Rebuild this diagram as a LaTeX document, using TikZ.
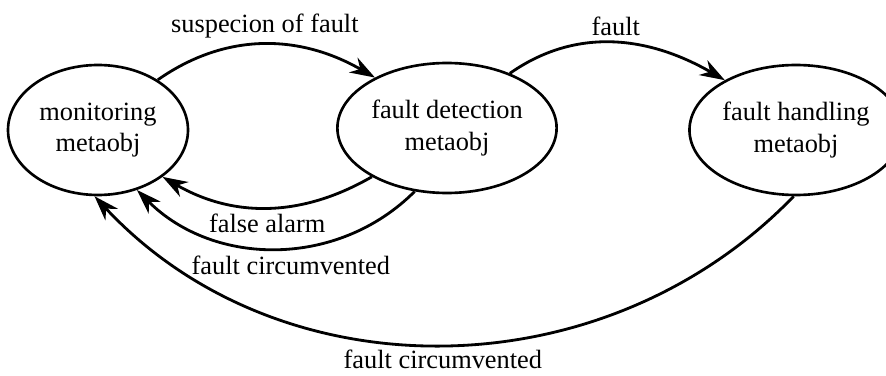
\documentclass[tikz,border=0pt]{standalone}
\usepackage{fontspec}
\setmainfont{Liberation Serif}
\usetikzlibrary{arrows.meta,shapes.geometric,positioning}

\tikzset{
  metaobj/.style={ellipse, draw, line width=1.5pt, minimum width=3.6cm, minimum height=2.6cm,
    inner sep=1pt, align=center, font=\fontsize{15}{18}\selectfont},
  trans/.style={line width=1.6pt, -{Stealth[length=0.5cm, width=0.34cm, inset=0.16cm]}},
  lbl/.style={font=\fontsize{15}{18}\selectfont, inner sep=2pt}
}

\begin{document}
\begin{tikzpicture}
\useasboundingbox (0,0) rectangle (17.72,7.5);
% nodes
 \node[metaobj] (mon) at (1.96,4.9) {monitoring\\metaobj};%
 \node[metaobj] (detect) at (8.94,4.94) {fault detection\\metaobj};%
 \node[metaobj] (handle) at (15.92,4.9) {fault handling\\metaobj};%

% edges
 \draw[trans] (mon.40) to[out=35,in=150] node[lbl, above=1pt] {suspecion of fault} (detect.145);
 \draw[trans] (detect.41) to[out=35,in=150] node[lbl, above=1pt] {fault} (handle.145);
 \draw[trans] (detect.213) to[out=210,in=-30] node[lbl, below=1pt] {false alarm} (mon.324);
 \draw[trans] (detect.243) to[out=225,in=-45] node[lbl, below=2pt, pos=0.45] {fault circumvented} (mon.303);
 \draw[trans] (handle.268) to[out=226,in=-47] node[lbl, below=0pt] {fault circumvented} (mon.267);

\end{tikzpicture}
\end{document}
